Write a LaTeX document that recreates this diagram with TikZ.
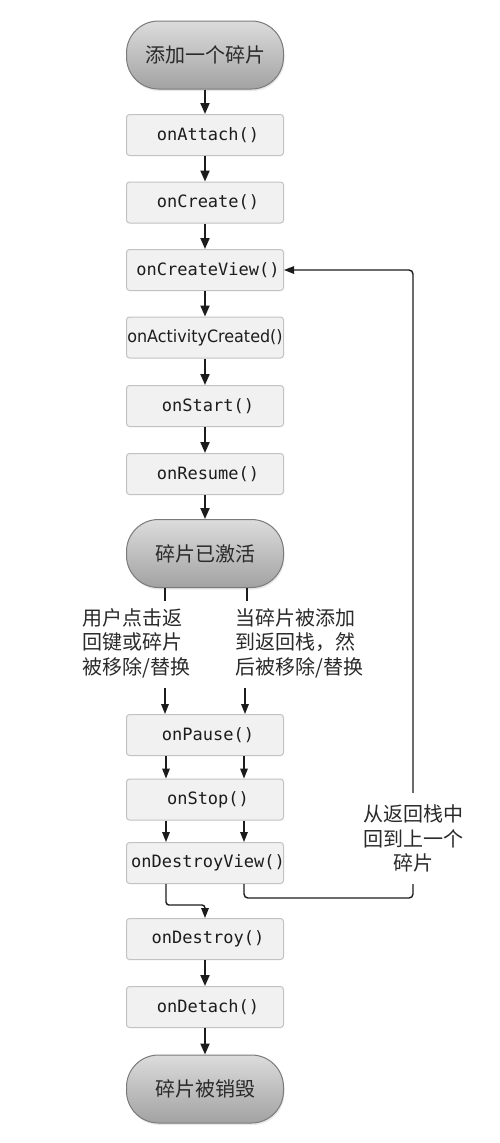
\documentclass[tikz,border=0pt]{standalone}
\usepackage{fontspec}
\setmonofont{DejaVu Sans Mono}
\newfontfamily\cjk{Noto Sans CJK SC}
\newfontfamily\dvsans{DejaVu Sans}
\usetikzlibrary{arrows.meta,shadows}
\definecolor{boxfill}{HTML}{F1F1F1}
\definecolor{boxline}{HTML}{C2C2C2}
\definecolor{termline}{HTML}{7A7A7A}
\definecolor{termtop}{HTML}{DCDCDC}
\definecolor{termbot}{HTML}{A2A2A2}
\definecolor{ink}{HTML}{1C1C1C}
\definecolor{cjkink}{HTML}{2A2A2A}
\newcommand\boxtxt[1]{\makebox[0pt]{\hspace{6pt}#1}}
\begin{document}
\begin{tikzpicture}[x=1pt,y=-1pt,
 method/.style={draw=boxline, fill=boxfill, line width=1pt, rounded corners=3pt,
   minimum width=157pt, minimum height=41pt, inner sep=0pt,
   font=\fontsize{17}{20}\selectfont\ttfamily, text=ink},
 terminal/.style={draw=termline, line width=1pt, rounded corners=32pt,
   minimum width=157pt, minimum height=68pt, inner sep=0pt,
   top color=termtop, bottom color=termbot,
   font=\fontsize{20}{24}\selectfont\cjk, text=cjkink,
   drop shadow={shadow xshift=1pt, shadow yshift=-2pt, opacity=0.18}},
 note/.style={font=\fontsize{20}{24.5}\selectfont\cjk, text=cjkink, inner sep=0pt},
 flow/.style={line width=2pt, draw=ink, -{Triangle[width=9pt,length=11pt]}},
 thinflow/.style={line width=1.4pt, draw=ink, -{Triangle[width=7.5pt,length=10pt]}},
 plain/.style={line width=1.4pt, draw=ink}
]
\useasboundingbox[fill=white] (0,0) rectangle (500,1143);

\node[terminal] (add) at (205,55) {添加一个碎片};
\node[method] (attach) at (205,135) {\boxtxt{onAttach()}};
\node[method] (create) at (205,202.5) {\boxtxt{onCreate()}};
\node[method] (cv) at (205,270) {\boxtxt{onCreateView()}};
\node[method] (ac) at (205,337.5) {\scalebox{0.94}[1]{\dvsans\fontsize{17}{20}\selectfont onActivityCreated()}};
\node[method] (start) at (205,406) {\boxtxt{onStart()}};
\node[method] (resume) at (205,474) {\boxtxt{onResume()}};
\node[terminal] (act) at (205,553.5) {碎片已激活};
\node[method] (pause) at (205,735) {\boxtxt{onPause()}};
\node[method] (stop) at (205,799.5) {\boxtxt{onStop()}};
\node[method] (dv) at (205,863) {\boxtxt{onDestroyView()}};
\node[method] (des) at (205,939) {\boxtxt{onDestroy()}};
\node[method] (det) at (205,1007) {\boxtxt{onDetach()}};
\node[terminal] (fin) at (205,1089) {碎片被销毁};

\node[note, anchor=west, align=left] (lt) at (82,643) {用户点击返\\回键或碎片\\被移除/替换};
\node[note, anchor=west, align=left] (rt) at (235,643) {当碎片被添加\\到返回栈，然\\后被移除/替换};
\node[note, align=center, minimum height=91pt] (back) at (413,838.5) {从返回栈中\\回到上一个\\碎片};

\draw[flow] (add.south) -- (attach.north);
\draw[flow] (attach.south) -- (create.north);
\draw[flow] (create.south) -- (cv.north);
\draw[flow] (cv.south) -- (ac.north);
\draw[flow] (ac.south) -- (start.north);
\draw[flow] (start.south) -- (resume.north);
\draw[flow] (resume.south) -- (act.north);
\draw[flow] (det.south) -- (fin.north);
\draw[flow] (des.south) -- (det.north);

\coordinate (l1) at (165,601);
\coordinate (r1) at (247,601);
\draw[plain] (act.south -| l1) -- (l1);
\draw[plain] (act.south -| r1) -- (r1);
\coordinate (l2) at (165,688);
\coordinate (r2) at (245,688);
\draw[thinflow] (l2) -- (pause.north -| l2);
\draw[thinflow] (r2) -- (pause.north -| r2);

\draw[thinflow] ([xshift=-39pt]pause.south) -- ([xshift=-39pt]stop.north);
\draw[thinflow] ([xshift=39pt]pause.south) -- ([xshift=39pt]stop.north);
\draw[thinflow] ([xshift=-39pt]stop.south) -- ([xshift=-39pt]dv.north);
\draw[thinflow] ([xshift=39pt]stop.south) -- ([xshift=39pt]dv.north);

\draw[thinflow, rounded corners=3pt] ([xshift=-39pt]dv.south) -- ++(0,21) -| (des.north);
\draw[plain, rounded corners=4pt] ([xshift=39pt]dv.south) -- ++(0,14) -| (back.south);
\draw[thinflow, rounded corners=4pt] (back.north) |- (cv.east);
\end{tikzpicture}
\end{document}
